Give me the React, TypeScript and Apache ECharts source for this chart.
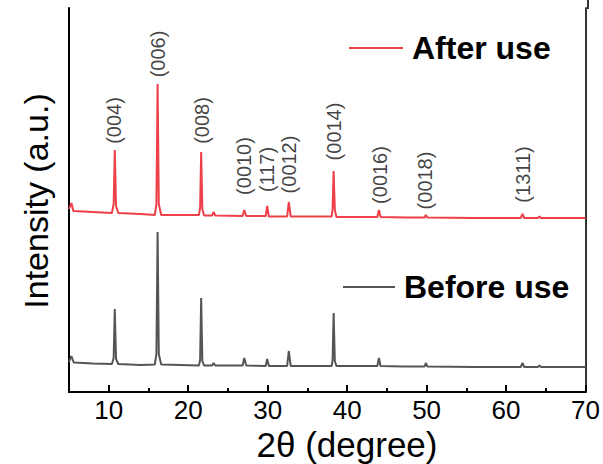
import React, { useEffect, useRef } from "react";
import * as echarts from "echarts";

// 2θ positions and intensities (a.u.)
const thetaBefore = [5.0, 5.3, 5.6, 8.0, 10.4, 10.62, 10.76, 10.92, 11.2, 14.0, 15.8, 16.0, 16.15, 16.3, 16.6, 19.0, 21.35, 21.5, 21.63, 21.78, 22.0, 23.0, 23.2, 23.4, 26.85, 27.05, 27.3, 29.75, 29.94, 30.15, 32.45, 32.66, 32.9, 38.05, 38.17, 38.3, 38.45, 38.65, 43.8, 44.0, 44.2, 47.0, 49.75, 49.9, 50.1, 56.0, 61.85, 62.06, 62.3, 64.0, 64.2, 64.4, 70.0];
const intensityBefore = [30, 36, 29.5, 28.5, 28, 34, 83, 33, 28, 27, 27.5, 38, 160, 38, 27.5, 27, 26.5, 32, 94, 31, 26.5, 26.5, 29, 26.5, 26.5, 34, 26.5, 26, 33, 26, 26, 41, 26, 26, 32, 79, 31, 26, 26, 34, 26, 25.5, 25.5, 29, 25.5, 25, 25, 29, 25, 25, 26.5, 25, 25];

const thetaAfter = [5.0, 5.3, 5.55, 8.0, 10.4, 10.62, 10.76, 10.92, 11.2, 14.0, 15.8, 16.0, 16.15, 16.3, 16.6, 19.0, 21.35, 21.5, 21.63, 21.78, 22.0, 23.0, 23.2, 23.4, 26.85, 27.05, 27.3, 29.75, 29.94, 30.15, 32.45, 32.66, 32.9, 38.05, 38.17, 38.3, 38.45, 38.65, 43.8, 44.0, 44.2, 47.5, 49.75, 49.9, 50.1, 56.0, 61.85, 62.06, 62.3, 64.0, 64.2, 64.4, 70.0];
const intensityAfter = [183, 189, 181, 180, 179, 188, 242, 186, 179, 178, 177, 188, 308, 188, 177, 177, 177, 184, 240, 183, 176.5, 176.5, 180, 176.5, 176, 182, 176, 176, 186, 175.5, 175.5, 190, 175.5, 175.5, 183, 221, 182, 175, 175, 182, 175, 174.5, 174.5, 177, 174.5, 174, 174, 178, 174, 174, 175.5, 174, 174];

// peak annotations
const peakNames = ["(004)", "(006)", "(008)", "(0010)", "(117)", "(0012)", "(0014)", "(0016)", "(0018)", "(1311)"];
const peakLabelTheta = [10.7, 16.15, 21.7, 27.05, 29.9, 32.7, 38.3, 44.1, 49.85, 62.1];
const peakLabelHeight = [271.5, 338, 271.5, 226, 222.5, 227.5, 260.5, 217, 211.5, 217.5];

const majorTicks = [10, 20, 30, 40, 50, 60, 70];
const minorTicks = [15, 25, 35, 45, 55, 65];

const FONT = "'Liberation Sans', Arial, sans-serif";
const RED = "#ee4049";
const GRAY = "#555555";

function zip(a: number[], b: number[]) {
  return a.map((v, i) => [v, b[i]]);
}

export default function App() {
  const ref = useRef<HTMLDivElement>(null);
  useEffect(() => {
    document.body.style.margin = "0";
    const chart = echarts.init(ref.current!, null, { renderer: "svg" });
    const labelData = peakNames.map((n, i) => ({ name: n, value: [peakLabelTheta[i], peakLabelHeight[i]] }));
    const legendText = { fontSize: 32, fontWeight: "bold", fontFamily: FONT, color: "#000", lineHeight: 34, padding: [0, 0, 0, 4] };
    chart.setOption({
      animation: false,
      backgroundColor: "#ffffff",
      grid: { left: 69, right: 15, top: 8, bottom: 72 },
      xAxis: [
        {
          type: "value",
          min: 5,
          max: 70,
          splitLine: { show: false },
          axisLine: { show: true, lineStyle: { color: "#000", width: 2 } },
          axisTick: { show: true, inside: true, length: 7, customValues: majorTicks, lineStyle: { color: "#000", width: 2 } },
          axisLabel: { customValues: majorTicks, color: "#000", fontSize: 26, fontFamily: FONT, margin: 5, lineHeight: 26 },
        },
        {
          type: "value",
          min: 5,
          max: 70,
          position: "bottom",
          splitLine: { show: false },
          axisLine: { show: false },
          axisTick: { show: true, inside: true, length: 4, customValues: minorTicks, lineStyle: { color: "#000", width: 2 } },
          axisLabel: { show: false },
        },
      ],
      yAxis: [
        {
          type: "value",
          min: 0,
          max: 384,
          splitLine: { show: false },
          axisLine: { show: true, lineStyle: { color: "#000", width: 2 } },
          axisTick: { show: false },
          axisLabel: { show: false },
        },
        {
          type: "value",
          min: 0,
          max: 384,
          position: "right",
          splitLine: { show: false },
          axisLine: { show: true, lineStyle: { color: "#333", width: 2 } },
          axisTick: { show: false },
          axisLabel: { show: false },
        },
      ],
      legend: [
        {
          data: ["After use"],
          left: 349,
          top: 31,
          padding: 0,
          icon: "rect",
          itemWidth: 54,
          itemHeight: 2,
          textStyle: legendText,
        },
        {
          data: ["Before use"],
          left: 343,
          top: 270,
          padding: 0,
          icon: "rect",
          itemWidth: 52,
          itemHeight: 2,
          textStyle: legendText,
        },
      ],
      series: [
        {
          name: "Before use",
          type: "line",
          data: zip(thetaBefore, intensityBefore),
          symbol: "none",
          lineStyle: { color: GRAY, width: 2 },
          itemStyle: { color: GRAY },
        },
        {
          name: "After use",
          type: "line",
          data: zip(thetaAfter, intensityAfter),
          symbol: "none",
          lineStyle: { color: RED, width: 2 },
          itemStyle: { color: RED },
        },
        {
          name: "labels",
          type: "scatter",
          data: labelData,
          symbolSize: 0,
          silent: true,
          label: {
            show: true,
            position: "inside",
            rotate: 90,
            formatter: (p: any) => p.name,
            fontSize: 20,
            fontFamily: FONT,
            color: "#111",
            align: "center",
            verticalAlign: "middle",
          },
        },
      ],
      graphic: [
        {
          type: "text",
          x: 347,
          y: 444,
          style: { text: "2θ (degree)", font: `35px ${FONT}`, lineHeight: 34, fill: "#000", align: "center", verticalAlign: "middle" },
        },
        {
          type: "text",
          x: 36,
          y: 201,
          rotation: Math.PI / 2,
          style: { text: "Intensity (a.u.)", font: `34px ${FONT}`, fill: "#000", align: "center", verticalAlign: "middle" },
        },
        {
          type: "line",
          shape: { x1: 588, y1: 0, x2: 588, y2: 9 },
          style: { stroke: "#333", lineWidth: 2 },
        },
      ],
    });
    return () => chart.dispose();
  }, []);
  return <div ref={ref} style={{ width: 603, height: 464 }} />;
}
